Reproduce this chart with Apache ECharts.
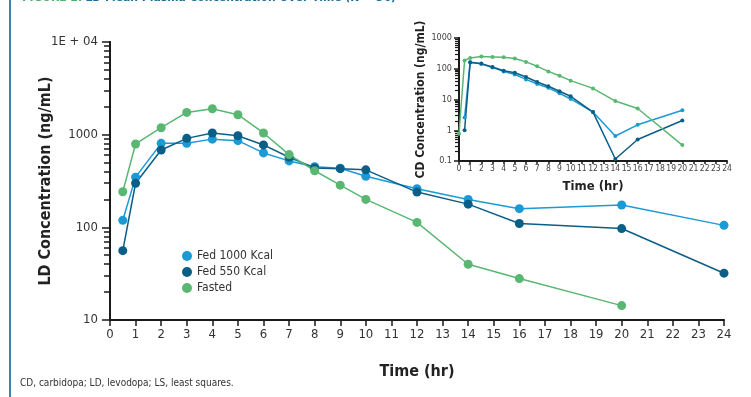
<!DOCTYPE html>
<html>
<head>
<meta charset="utf-8">
<script src="https://cdn.jsdelivr.net/npm/echarts@6/dist/echarts.min.js"></script>
<style>
  html, body { margin: 0; padding: 0; background: #fff; }
  #chart { width: 751px; height: 397px; }
</style>
</head>
<body>
<div id="chart"></div>
<script>
// LD (main chart)
const ldTimes = [0.5, 1, 2, 3, 4, 5, 6, 7, 8, 9, 10, 12, 14, 16, 20, 24]
const ldFed1000 = [119, 348, 806, 806, 895, 861, 635, 521, 450, 434, 356, 261, 200, 159, 174, 105]
const ldFed550 = [56, 299, 684, 912, 1043, 975, 775, 571, 438, 430, 417, 240, 178, 110, 97, 32]
const ldFastedTimes = [0.5, 1, 2, 3, 4, 5, 6, 7, 8, 9, 10, 12, 14, 16, 20]
const ldFasted = [242, 794, 1189, 1738, 1905, 1641, 1043, 610, 408, 285, 200, 113, 40, 28, 14.3]

// CD (inset)
const cdTimes = [0.5, 1, 2, 3, 4, 5, 6, 7, 8, 9, 10, 12, 14, 16, 20]
const cdFed1000 = [2.6, 167, 143, 109, 82, 65, 45, 32, 24, 16, 10.4, 3.9, 0.65, 1.5, 4.5]
const cdFed550 = [1.0, 160, 147, 114, 86, 74, 54, 37, 27, 18.5, 12.7, 3.9, 0.116, 0.5, 2.07]
const cdFastedTimes = [0, 0.5, 1, 2, 3, 4, 5, 6, 7, 8, 9, 10, 12, 14, 16, 20]
const cdFasted = [0.77, 185, 225, 249, 243, 237, 215, 167, 120, 82, 59, 41, 23, 8.9, 5.1, 0.33]

const seriesNames = ['Fed 1000 Kcal', 'Fed 550 Kcal', 'Fasted']
const colors = ['#1b9ad6', '#0b5e86', '#59b772']

const narrow = '"Liberation Sans Narrow", "DejaVu Sans Condensed", sans-serif'

const pairs = (xs, ys) => xs.map((x, i) => [x, ys[i]])

// minor tick positions (log10 units) for the decorative tick axes
const minorTicks = (fromExp, toExp) => {
  const out = []
  for (let e = fromExp; e < toExp; e++) {
    for (let j = 2; j <= 9; j++) out.push(e + Math.log10(j))
  }
  return out
}

const chart = echarts.init(document.getElementById('chart'))

const axisLine = { onZero: false, lineStyle: { color: '#1a1a1a', width: 2 } }

const minorAxis = (grid, lo, hi, len, w) => ({
  gridIndex: grid,
  type: 'value',
  min: lo,
  max: hi,
  position: 'left',
  axisLine: { show: true, onZero: false, lineStyle: { color: '#1a1a1a', width: 2 } },
  axisLabel: { show: false, customValues: minorTicks(lo, hi) },
  axisTick: {
    show: true,
    length: len,
    customValues: minorTicks(lo, hi),
    lineStyle: { color: '#1a1a1a', width: w },
  },
  splitLine: { show: false },
})

const option = {
  animation: false,
  color: colors,
  graphic: [
    {
      type: 'rect',
      left: 9,
      top: 0,
      shape: { width: 2, height: 397 },
      style: { fill: '#3b84b6' },
    },
    {
      type: 'text',
      left: 22,
      top: -8,
      style: {
        text: '{a|FIGURE 2.} {b|LD Mean Plasma Concentration Over Time (N = 36)}',
        rich: {
          a: { fill: '#4cae6a', fontSize: 12, fontWeight: 'bold', fontFamily: narrow },
          b: { fill: '#1f6c98', fontSize: 12, fontWeight: 'bold', fontFamily: narrow },
        },
      },
    },
    {
      type: 'text',
      left: 20,
      top: 378,
      style: {
        text: 'CD, carbidopa; LD, levodopa; LS, least squares.',
        fill: '#333',
        fontSize: 10,
        fontFamily: narrow,
      },
    },
  ],
  legend: {
    orient: 'vertical',
    left: 177,
    top: 245,
    itemWidth: 10,
    itemHeight: 10,
    itemGap: 4,
    icon: 'circle',
    textStyle: { fontSize: 12, color: '#333', fontFamily: narrow },
    data: seriesNames,
  },
  grid: [
    { left: 110, right: 27, top: 42, bottom: 77 },
    { left: 459, right: 24, top: 38, bottom: 236 },
  ],
  xAxis: [
    {
      gridIndex: 0,
      type: 'value',
      min: 0,
      max: 24,
      interval: 1,
      name: 'Time (hr)',
      nameLocation: 'middle',
      nameGap: 44,
      nameTextStyle: { fontSize: 16, fontWeight: 'bold', color: '#222', fontFamily: narrow },
      axisLine: axisLine,
      axisTick: { length: 6, lineStyle: { color: '#1a1a1a', width: 1.5 } },
      axisLabel: { fontSize: 13, color: '#333', margin: 8, fontFamily: narrow },
      splitLine: { show: false },
    },
    {
      gridIndex: 1,
      type: 'value',
      min: 0,
      max: 24,
      interval: 1,
      name: 'Time (hr)',
      nameLocation: 'middle',
      nameGap: 19,
      nameTextStyle: { fontSize: 13, fontWeight: 'bold', color: '#222', fontFamily: narrow },
      axisLine: axisLine,
      axisTick: { length: 3, lineStyle: { color: '#1a1a1a', width: 1.5 } },
      axisLabel: { fontSize: 8.5, color: '#444', margin: 3, interval: 0, fontFamily: narrow },
      splitLine: { show: false },
    },
  ],
  yAxis: [
    {
      gridIndex: 0,
      type: 'log',
      logBase: 10,
      min: 10,
      max: 10000,
      name: 'LD Concentration (ng/mL)',
      nameLocation: 'middle',
      nameGap: 56,
      nameMoveOverlap: false,
      nameTextStyle: { fontSize: 16, fontWeight: 'bold', color: '#222', fontFamily: narrow },
      axisLine: { show: true, onZero: false, lineStyle: { color: '#1a1a1a', width: 2 } },
      axisTick: { length: 8, lineStyle: { color: '#1a1a1a', width: 1.5 } },
      axisLabel: {
        fontSize: 13,
        color: '#333',
        margin: 12,
        fontFamily: narrow,
        formatter: (v) => (v >= 10000 ? '1E + 04' : String(v)),
      },
      splitLine: { show: false },
    },
    minorAxis(0, 1, 4, 6, 1.5),
    {
      gridIndex: 1,
      type: 'log',
      logBase: 10,
      min: 0.1,
      max: 1000,
      name: 'CD Concentration (ng/mL)',
      nameLocation: 'middle',
      nameGap: 32,
      nameMoveOverlap: false,
      nameTextStyle: { fontSize: 12, fontWeight: 'bold', color: '#222', fontFamily: narrow },
      axisLine: { show: true, onZero: false, lineStyle: { color: '#1a1a1a', width: 2 } },
      axisTick: { length: 5, lineStyle: { color: '#1a1a1a', width: 1.5 } },
      axisLabel: {
        fontSize: 9,
        color: '#444',
        margin: 7,
        fontFamily: narrow,
        formatter: (v) => String(v),
      },
      splitLine: { show: false },
    },
    minorAxis(1, -1, 3, 4, 1.2),
  ],
  series: [
    {
      name: seriesNames[0],
      type: 'line',
      xAxisIndex: 0,
      yAxisIndex: 0,
      symbol: 'circle',
      symbolSize: 9,
      lineStyle: { width: 1.5 },
      data: pairs(ldTimes, ldFed1000),
    },
    {
      name: seriesNames[1],
      type: 'line',
      xAxisIndex: 0,
      yAxisIndex: 0,
      symbol: 'circle',
      symbolSize: 9,
      lineStyle: { width: 1.5 },
      data: pairs(ldTimes, ldFed550),
    },
    {
      name: seriesNames[2],
      type: 'line',
      xAxisIndex: 0,
      yAxisIndex: 0,
      symbol: 'circle',
      symbolSize: 9,
      lineStyle: { width: 1.5 },
      data: pairs(ldFastedTimes, ldFasted),
    },
    {
      name: seriesNames[0],
      type: 'line',
      xAxisIndex: 1,
      yAxisIndex: 2,
      symbol: 'circle',
      symbolSize: 4,
      lineStyle: { width: 1.5 },
      data: pairs(cdTimes, cdFed1000),
    },
    {
      name: seriesNames[1],
      type: 'line',
      xAxisIndex: 1,
      yAxisIndex: 2,
      symbol: 'circle',
      symbolSize: 4,
      lineStyle: { width: 1.5 },
      data: pairs(cdTimes, cdFed550),
    },
    {
      name: seriesNames[2],
      type: 'line',
      xAxisIndex: 1,
      yAxisIndex: 2,
      symbol: 'circle',
      symbolSize: 4,
      lineStyle: { width: 1.5 },
      data: pairs(cdFastedTimes, cdFasted),
    },
  ],
}

chart.setOption(option)
</script>
</body>
</html>
